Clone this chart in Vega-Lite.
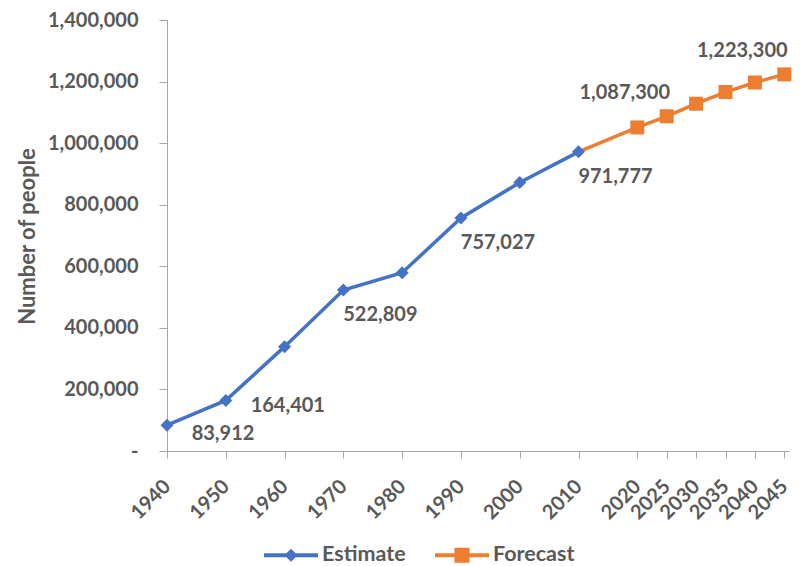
{
  "$schema": "https://vega.github.io/schema/vega-lite/v6.json",
  "width": 622,
  "height": 431,
  "autosize": "none",
  "padding": {"left": 167, "top": 20, "right": 12, "bottom": 115},
  "background": "white",
  "config": {
    "view": {"stroke": null},
    "font": "Lato",
    "axis": {"grid": false, "domainColor": "#A6A6A6", "tickColor": "#A6A6A6", "labelFont": "Lato", "labelFontWeight": "bold", "labelColor": "#595959", "labelFontSize": 20, "titleFont": "Lato", "titleFontWeight": "bold", "titleColor": "#595959", "titleFontSize": 22}
  },
  "data": {
    "values": [
      {"year": 1940, "value": 83912, "series": "Estimate"},
      {"year": 1950, "value": 164401, "series": "Estimate"},
      {"year": 1960, "value": 339000, "series": "Estimate"},
      {"year": 1970, "value": 522809, "series": "Estimate"},
      {"year": 1980, "value": 579000, "series": "Estimate"},
      {"year": 1990, "value": 757027, "series": "Estimate"},
      {"year": 2000, "value": 872000, "series": "Estimate"},
      {"year": 2010, "value": 971777, "series": "Estimate"},
      {"year": 2010, "value": 971777, "series": "Forecast"},
      {"year": 2020, "value": 1051000, "series": "Forecast"},
      {"year": 2025, "value": 1087300, "series": "Forecast"},
      {"year": 2030, "value": 1128000, "series": "Forecast"},
      {"year": 2035, "value": 1166000, "series": "Forecast"},
      {"year": 2040, "value": 1197000, "series": "Forecast"},
      {"year": 2045, "value": 1223300, "series": "Forecast"}
    ]
  },
  "encoding": {
    "x": {
      "field": "year", "type": "quantitative",
      "scale": {"domain": [1940, 2045.8], "nice": false, "zero": false},
      "axis": {"title": null, "values": [1940, 1950, 1960, 1970, 1980, 1990, 2000, 2010, 2020, 2025, 2030, 2035, 2040, 2045], "format": "d", "labelAngle": -45, "labelAlign": "right", "labelBaseline": "middle", "tickSize": 7, "labelPadding": 25, "labelOverlap": false, "labelFlush": false}
    },
    "y": {
      "field": "value", "type": "quantitative",
      "scale": {"domain": [0, 1400000], "nice": false},
      "axis": {"title": "Number of people", "values": [0, 200000, 400000, 600000, 800000, 1000000, 1200000, 1400000], "labelExpr": "datum.value === 0 ? '-\u00a0\u00a0\u00a0\u00a0\u00a0' : format(datum.value, ',')", "tickSize": 8, "labelPadding": 21, "titleX": -140, "titleY": 216, "titleAngle": -90, "titleAlign": "center", "titleBaseline": "middle"}
    }
  },
  "layer": [
    {
      "mark": {"type": "line", "strokeWidth": 3.5},
      "encoding": {
        "color": {
          "field": "series", "type": "nominal",
          "scale": {"domain": ["Estimate", "Forecast"], "range": ["#4472C4", "#ED7D31"]},
          "legend": {
            "orient": "none", "legendX": 97, "legendY": 508, "direction": "horizontal", "title": null,
            "symbolSize": 2916, "labelFont": "Lato", "labelFontSize": 21.5, "labelFontWeight": "bold", "labelColor": "#595959", "labelOffset": 4, "columnPadding": 29,
            "encode": {"symbols": {"update": {
              "shape": [{"test": "datum.value === 'Estimate'", "value": "M-1,-0.07L-0.17,-0.07L0,-0.24L0.17,-0.07L1,-0.07L1,0.07L0.17,0.07L0,0.24L-0.17,0.07L-1,0.07Z"}, {"value": "M-1,-0.07L-0.28,-0.07L-0.28,-0.28L0.28,-0.28L0.28,-0.07L1,-0.07L1,0.07L0.28,0.07L0.28,0.28L-0.28,0.28L-0.28,0.07L-1,0.07Z"}],
              "fill": [{"test": "datum.value === 'Estimate'", "value": "#4472C4"}, {"value": "#ED7D31"}],
              "fillOpacity": {"value": 1},
              "strokeWidth": {"value": 0}
            }}}
          }
        }
      }
    },
    {
      "transform": [{"filter": "datum.series === 'Estimate'"}],
      "mark": {"type": "point", "shape": "diamond", "filled": true, "size": 169, "opacity": 1, "color": "#4472C4"}
    },
    {
      "transform": [{"filter": "datum.series === 'Forecast' && datum.year >= 2020"}],
      "mark": {"type": "point", "shape": "square", "filled": true, "size": 196, "opacity": 1, "color": "#ED7D31"}
    },
    {
      "transform": [{"filter": "datum.series === 'Estimate' && datum.year === 1940"}],
      "mark": {"type": "text", "font": "Lato", "fontWeight": "bold", "fontSize": 20, "color": "#595959", "dx": 56, "dy": 9},
      "encoding": {"text": {"field": "value", "type": "quantitative", "format": ","}}
    },
    {
      "transform": [{"filter": "datum.series === 'Estimate' && datum.year === 1950"}],
      "mark": {"type": "text", "font": "Lato", "fontWeight": "bold", "fontSize": 20, "color": "#595959", "dx": 62, "dy": 6},
      "encoding": {"text": {"field": "value", "type": "quantitative", "format": ","}}
    },
    {
      "transform": [{"filter": "datum.series === 'Estimate' && (datum.year === 1970 || datum.year === 1990 || datum.year === 2010)"}],
      "mark": {"type": "text", "font": "Lato", "fontWeight": "bold", "fontSize": 20, "color": "#595959", "dx": 37, "dy": 25},
      "encoding": {"text": {"field": "value", "type": "quantitative", "format": ","}}
    },
    {
      "transform": [{"filter": "datum.series === 'Forecast' && (datum.year === 2025 || datum.year === 2045)"}],
      "mark": {"type": "text", "font": "Lato", "fontWeight": "bold", "fontSize": 20, "color": "#595959", "dx": -42, "dy": -23},
      "encoding": {"text": {"field": "value", "type": "quantitative", "format": ","}}
    }
  ]
}
